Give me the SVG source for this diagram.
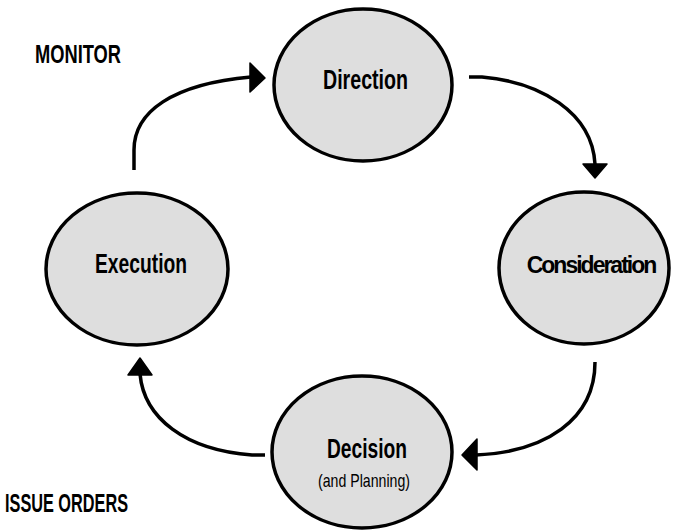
<svg xmlns="http://www.w3.org/2000/svg" width="673" height="530" viewBox="0 0 673 530">
  <style>
    .node ellipse { fill: #dedede; stroke: #000; stroke-width: 3.5; }
    .lbl { font-family: "Liberation Sans", Arial, sans-serif; font-weight: bold; fill: #000; }
    .sub { font-family: "Liberation Sans", Arial, sans-serif; font-weight: normal; fill: #000; }
    .conn path { fill: none; stroke: #000; stroke-width: 3.5; stroke-linecap: butt; }
    .conn polygon { fill: #000; stroke: #000; stroke-width: 1.5; stroke-linejoin: round; }
  </style>

  <rect width="673" height="530" fill="#fff"/>

  <!-- side notes -->
  <text class="lbl" x="35" y="63" font-size="25" textLength="86" lengthAdjust="spacingAndGlyphs">MONITOR</text>
  <text class="lbl" x="5" y="512" font-size="26" textLength="123" lengthAdjust="spacingAndGlyphs">ISSUE ORDERS</text>

  <!-- connectors -->
  <g id="connectors" class="conn">
    <!-- Execution to Direction -->
    <path d="M134,170 L134,150 C134,112 172,84 251,77"/>
    <polygon points="250,63 265,78 250,92"/>
    <!-- Direction to Consideration -->
    <path d="M469,77 L482,77 C540,82 592,112 595,164"/>
    <polygon points="583,164 607,164 595,178"/>
    <!-- Consideration to Decision -->
    <path d="M595,362 C595,420 545,452 476,455"/>
    <polygon points="477,439 462,455 477,470"/>
    <!-- Decision to Execution -->
    <path d="M265,455 L252,455 C185,450 144,418 140,374"/>
    <polygon points="128,375 140,358 152,375"/>
  </g>

  <!-- nodes -->
  <g id="direction" class="node">
    <ellipse cx="363" cy="85" rx="89" ry="76"/>
    <text class="lbl" x="323" y="89" font-size="27" textLength="85" lengthAdjust="spacingAndGlyphs">Direction</text>
  </g>
  <g id="consideration" class="node">
    <ellipse cx="584" cy="268" rx="85" ry="76"/>
    <text class="lbl" x="591" y="273" font-size="23" letter-spacing="-2" text-anchor="middle">Consideration</text>
  </g>
  <g id="decision" class="node">
    <ellipse cx="362" cy="452" rx="90" ry="76"/>
    <text class="lbl" x="327" y="458" font-size="27" textLength="80" lengthAdjust="spacingAndGlyphs">Decision</text>
    <text class="sub" x="318" y="487" font-size="19" textLength="92" lengthAdjust="spacingAndGlyphs">(and Planning)</text>
  </g>
  <g id="execution" class="node">
    <ellipse cx="137" cy="269" rx="91" ry="76"/>
    <text class="lbl" x="95" y="273" font-size="27" textLength="92" lengthAdjust="spacingAndGlyphs">Execution</text>
  </g>
</svg>
